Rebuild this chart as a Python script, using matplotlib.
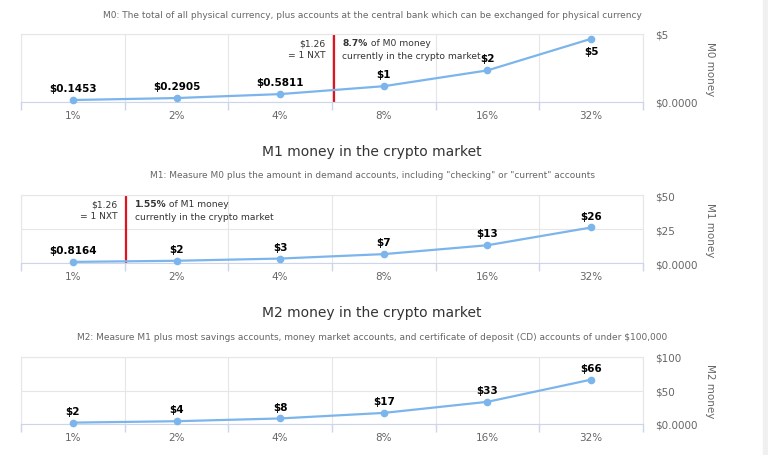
import matplotlib
matplotlib.use("Agg")
import matplotlib.pyplot as plt
from matplotlib.patches import Rectangle
from matplotlib.ticker import FixedLocator, FuncFormatter

plt.rcParams['font.family'] = ['DejaVu Sans']

# data
categories = ['1%', '2%', '4%', '8%', '16%', '32%']
m0_values = [0.1453, 0.2905, 0.5811, 1.1622, 2.3244, 4.6488]
m1_values = [0.8164, 1.6328, 3.2656, 6.5312, 13.0624, 26.1248]
m2_values = [2.07, 4.14, 8.28, 16.56, 33.12, 66.24]
m0_ticks = [0, 5]
m1_ticks = [0, 25, 50]
m2_ticks = [0, 50, 100]
m1_title = 'M1 money in the crypto market'
m2_title = 'M2 money in the crypto market'
m0_subtitle = ('M0: The total of all physical currency, plus accounts at the central bank '
               'which can be exchanged for physical currency')
m1_subtitle = ('M1: Measure M0 plus the amount in demand accounts, including '
               '"checking" or "current" accounts')
m2_subtitle = ('M2: Measure M1 plus most savings accounts, money market accounts, '
               'and certificate of deposit (CD) accounts of under $100,000')
axis_titles = ['M0 money', 'M1 money', 'M2 money']
nxt_price = '$1.26\n= 1 NXT'
m0_share = '8.7%'
m1_share = '1.55%'
m0_marker_pos = 2.52   # category position of the red line
m1_marker_pos = 0.515

LINE = '#7cb5ec'
GRID = '#e6e6e6'
AXIS = '#ccd6eb'
LABEL = '#666666'
TEXT = '#333333'

W, H = 768, 456
fig = plt.figure(figsize=(W / 100, H / 100), dpi=100)
fig.patches.append(Rectangle((763 / W, 0), 5 / W, 1, transform=fig.transFigure,
                             color='#f0f0f0', zorder=0))


def money(v, pos=None):
    return '$0.0000' if v == 0 else f'${v:.0f}'


def value_label(v):
    return f'${v:.4f}' if v < 1 else f'${v:.0f}'


def panel(top_px, bottom_px, values, ticks, axis_title):
    ax = fig.add_axes([21 / W, 1 - bottom_px / H, 622 / W, (bottom_px - top_px) / H])
    xs = list(range(len(categories)))
    ax.plot(xs, values, color=LINE, lw=1.6, marker='o', ms=4.5, mec=LINE, zorder=3,
            clip_on=False)
    ymax = ticks[-1]
    for x, v in zip(xs, values):
        if v / ymax > 0.85:
            off, va = (0, -5), 'top'
        else:
            off, va = (0, 5), 'bottom'
        ax.annotate(value_label(v), (x, v), xytext=off, textcoords='offset points',
                    ha='center', va=va, fontsize=7.5, fontweight='bold', color='black',
                    zorder=4)
    ax.set_xlim(-0.5, len(categories) - 0.5)
    ax.set_ylim(0, ymax)
    ax.xaxis.set_major_locator(FixedLocator(xs))
    ax.set_xticklabels(categories)
    ax.xaxis.set_minor_locator(FixedLocator([i - 0.5 for i in range(len(categories) + 1)]))
    ax.tick_params(axis='x', which='major', length=0, pad=6, labelsize=7.5, labelcolor=LABEL)
    ax.tick_params(axis='x', which='minor', length=5.5, color=AXIS, width=1)
    ax.grid(True, axis='x', which='minor', color=GRID, lw=0.8)
    ax.yaxis.tick_right()
    ax.set_yticks(ticks)
    ax.yaxis.set_major_formatter(FuncFormatter(money))
    ax.tick_params(axis='y', length=0, pad=9, labelsize=7.5, labelcolor=LABEL)
    for lab in ax.get_yticklabels():
        lab.set_horizontalalignment('left')
    ax.grid(True, axis='y', color=GRID, lw=0.8)
    for side in ['top', 'left', 'right']:
        ax.spines[side].set_color(GRID)
        ax.spines[side].set_linewidth(0.8)
    ax.spines['bottom'].set_color(AXIS)
    ax.set_axisbelow(True)
    fig.text(710 / W, 1 - (top_px + bottom_px) / 2 / H, axis_title, rotation=270,
             ha='center', va='center', fontsize=7.5, color=LABEL)
    return ax


def nxt_marker(ax, pos, share, money_name):
    ax.axvline(pos, color='#e0141e', lw=1.6, zorder=2)
    ax.annotate(nxt_price, (pos, 1), xycoords=('data', 'axes fraction'),
                xytext=(-6, -3), textcoords='offset points', ha='right', va='top',
                fontsize=6.6, color=TEXT, linespacing=1.4)
    bold = ax.annotate(share, (pos, 1), xycoords=('data', 'axes fraction'),
                       xytext=(6, -3), textcoords='offset points', ha='left', va='top',
                       fontsize=6.6, fontweight='bold', color=TEXT)
    ax.annotate(f' of {money_name} money', xy=(1, 0), xycoords=bold, ha='left',
                va='bottom', fontsize=6.6, color=TEXT)
    ax.annotate('currently in the crypto market', (pos, 1),
                xycoords=('data', 'axes fraction'), xytext=(6, -12),
                textcoords='offset points', ha='left', va='top', fontsize=6.6, color=TEXT)


cx = 372 / W
fig.text(cx, 1 - 15 / H, m0_subtitle, ha='center', va='center', fontsize=6.5, color=LABEL)
fig.text(cx, 1 - 152 / H, m1_title, ha='center', va='center', fontsize=10, color=TEXT)
fig.text(cx, 1 - 176 / H, m1_subtitle, ha='center', va='center', fontsize=6.5, color=LABEL)
fig.text(cx, 1 - 313 / H, m2_title, ha='center', va='center', fontsize=10, color=TEXT)
fig.text(cx, 1 - 337 / H, m2_subtitle, ha='center', va='center', fontsize=6.5, color=LABEL)

ax0 = panel(35, 103, m0_values, m0_ticks, axis_titles[0])
ax1 = panel(196, 264, m1_values, m1_ticks, axis_titles[1])
ax2 = panel(358, 425, m2_values, m2_ticks, axis_titles[2])

nxt_marker(ax0, m0_marker_pos, m0_share, 'M0')
nxt_marker(ax1, m1_marker_pos, m1_share, 'M1')

fig.savefig('out.png', dpi=100)
